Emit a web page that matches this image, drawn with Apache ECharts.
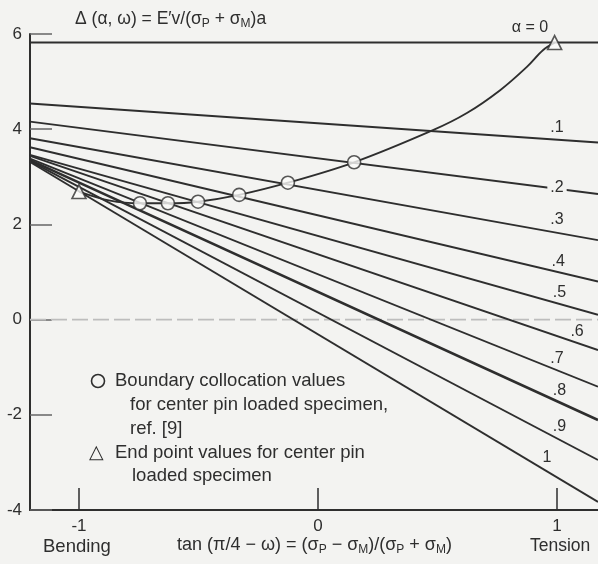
<!DOCTYPE html>
<html>
<head>
<meta charset="utf-8">
<script src="https://cdn.jsdelivr.net/npm/echarts@6/dist/echarts.min.js"></script>
<style>
html,body{margin:0;padding:0;background:#f3f3f1;}
#c{width:598px;height:564px;}
</style>
</head>
<body>
<div id="c"></div>
<script>
// ---- data ----
const alphaLabels = ['α = 0', '.1', '.2', '.3', '.4', '.5', '.6', '.7', '.8', '.9', '1'];
const xStart = -1.205;   // left end of every line (y axis position)
const xEnd = 1.1715;     // right end of every line (picture edge)
const leftValues  = [5.82, 4.54, 4.16, 3.81, 3.62, 3.46, 3.44, 3.38, 3.35, 3.33, 3.31];
const rightValues = [5.82, 3.72, 2.64, 1.67, 0.80, 0.10, -0.64, -1.41, -2.11, -2.95, -3.83];

const curveX = [-1.0, -0.87, -0.745, -0.628, -0.502, -0.33, -0.126, 0.151, 0.481, 0.623, 0.762, 0.874, 0.941, 0.99];
const curveY = [2.69, 2.50, 2.445, 2.445, 2.477, 2.62, 2.876, 3.305, 3.98, 4.34, 4.82, 5.31, 5.66, 5.82];

const circleX = [-0.745, -0.628, -0.502, -0.33, -0.126, 0.151];
const circleY = [2.445, 2.445, 2.477, 2.62, 2.876, 3.305];

const triangleX = [-1.0, 0.99];
const triangleY = [2.69, 5.82];

const xTicks = [-1, 0, 1];
const yTicks = [-4, -2, 0, 2, 4, 6];

// ---- layout / style ----
const FONT = 'Liberation Sans';
const INK = '#2e2e2e';
const BG = '#f3f3f1';
const labelX = [0.887, 1.0, 1.0, 1.0, 1.005, 1.01, 1.084, 1.0, 1.01, 1.01, 0.958];
const labelDY = [-15, -12, -1, -13, -11, -11, -11, -12, -12, -13, -14];

function valueAt(i, x) {
  return leftValues[i] + (rightValues[i] - leftValues[i]) * (x - xStart) / (xEnd - xStart);
}

const series = [];
series.push({
  type: 'line', data: [[xStart, 0], [xEnd, 0]], symbol: 'none', silent: true,
  lineStyle: { color: '#bdbdbd', width: 1.6, type: [16, 5] }, z: 1
});
alphaLabels.forEach((lab, i) => {
  series.push({
    type: 'line',
    data: [[xStart, leftValues[i]], [xEnd, rightValues[i]]],
    symbol: 'none',
    lineStyle: { color: INK, width: i === 8 ? 2.6 : 1.9 },
    z: 2,
    markPoint: {
      symbol: 'circle', symbolSize: 0,
      data: [{ coord: [labelX[i], valueAt(i, labelX[i])] }],
      label: {
        show: true, formatter: lab, offset: [0, labelDY[i]],
        color: INK, fontFamily: FONT, fontSize: 16,
        backgroundColor: i === 2 ? BG : 'transparent', padding: i === 2 ? [0, 3] : 0
      }
    }
  });
});
series.push({
  type: 'line', data: curveX.map((x, k) => [x, curveY[k]]), symbol: 'none', smooth: 0.35,
  lineStyle: { color: INK, width: 1.9 }, z: 3
});
series.push({
  type: 'scatter', data: circleX.map((x, k) => [x, circleY[k]]), symbol: 'circle', symbolSize: 13,
  itemStyle: { color: '#fbfbfa', borderColor: INK, borderWidth: 1.6 }, z: 5
});
series.push({
  type: 'scatter', data: triangleX.map((x, k) => [x, triangleY[k]]), symbol: 'triangle', symbolSize: 14,
  itemStyle: { color: '#fbfbfa', borderColor: INK, borderWidth: 1.6 }, z: 5
});

const sub = { fontSize: 12, padding: [9, 0, 0, 0], fontFamily: FONT, color: INK };
const txt = (text, left, top, size) => ({
  type: 'text', left: left, top: top,
  style: { text: text, fill: INK, font: (size || 18.5) + 'px ' + FONT }
});

const chart = echarts.init(document.getElementById('c'), null, { renderer: 'canvas' });
chart.setOption({
  backgroundColor: BG,
  animation: false,
  grid: { left: 30, right: 0, top: 34, bottom: 54 },
  xAxis: {
    type: 'value', min: xStart, max: xEnd,
    splitLine: { show: false },
    axisLine: { show: true, onZero: false, lineStyle: { color: INK, width: 2 } },
    axisTick: { show: true, inside: true, length: 22, customValues: xTicks, lineStyle: { color: INK, width: 1.5 } },
    axisLabel: { show: true, customValues: xTicks, margin: 8, color: INK, fontFamily: FONT, fontSize: 17,
      formatter: v => String(v) }
  },
  yAxis: {
    type: 'value', min: -4, max: 6, interval: 2,
    splitLine: { show: false },
    axisLine: { show: true, onZero: false, lineStyle: { color: INK, width: 2 } },
    axisTick: { show: true, inside: true, length: 22, customValues: yTicks, lineStyle: { color: '#666', width: 1.5 } },
    axisLabel: { show: true, customValues: yTicks, margin: 8, color: INK, fontFamily: FONT, fontSize: 17,
      formatter: v => String(v) }
  },
  series: series,
  graphic: [
    {
      type: 'text', left: 75, top: 10,
      style: {
        text: 'Δ (α, ω) = E′v/(σ{s|P} + σ{s|M})a', fill: INK, font: '17.5px ' + FONT,
        rich: { s: sub }
      }
    },
    {
      type: 'text', left: 177, top: 536,
      style: {
        text: 'tan (π/4 − ω) = (σ{s|P} − σ{s|M})/(σ{s|P} + σ{s|M})', fill: INK, font: '18px ' + FONT,
        rich: { s: sub }
      }
    },
    txt('Bending', 43, 537, 18.5),
    txt('Tension', 530, 537, 17.5),
    {
      type: 'circle', shape: { cx: 98, cy: 381, r: 6.5 },
      style: { fill: 'transparent', stroke: INK, lineWidth: 1.6 }
    },
    txt('Boundary collocation values', 115, 371),
    txt('for center pin loaded specimen,', 130, 395),
    txt('ref. [9]', 130, 419),
    txt('△', 89, 443, 19),
    txt('End point values for center pin', 115, 443),
    txt('loaded specimen', 132, 466)
  ]
});
</script>
</body>
</html>
